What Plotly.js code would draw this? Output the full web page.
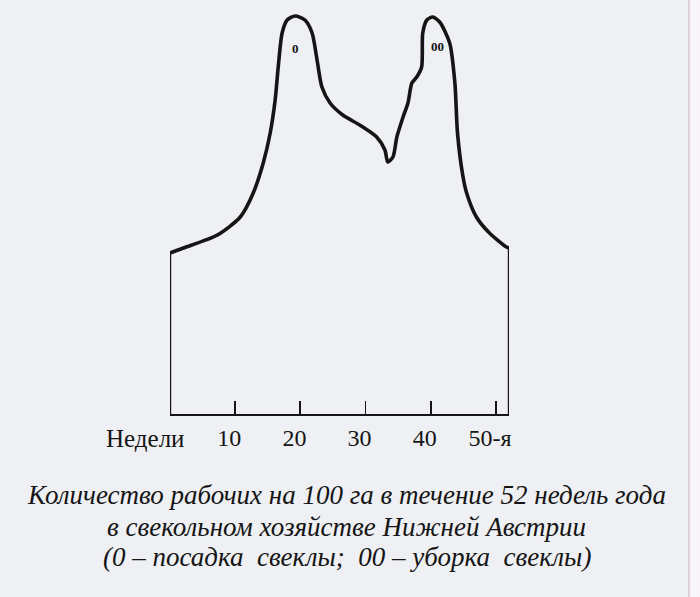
<!DOCTYPE html>
<html>
<head>
<meta charset="utf-8">
<script src="https://cdn.plot.ly/plotly-3.0.1.min.js"></script>
<style>
  html, body { margin: 0; padding: 0; background: #eef0f3; }
  #chart { width: 700px; height: 597px; }
</style>
</head>
<body>
<div id="chart"></div>
<script>
// Weeks of the year (x) and workers per 100 ha (relative units, y)
const weeks = [0, 2.06, 7.27, 10.78, 12.77, 14.3, 15.37, 16.13, 16.6, 17.2, 17.97, 19.2, 20.7, 21.8,
  22.56, 23.3, 24.55, 26.5, 29.1, 31.7, 32.97, 33.4, 34.2, 34.8, 35.7, 36.5, 37.1, 37.85, 38.6,
  38.77, 39.4, 40.3, 41.37, 42.9, 43.7, 44.1, 44.9, 45.5, 47.0, 49.0, 51.6, 52];
const workers = [16.1, 16.6, 17.9, 19.7, 22.1, 25.1, 28.1, 31.4, 34.7, 38.1, 39.4, 39.8, 39.4, 38.1,
  35.4, 32.7, 31.1, 29.9, 28.9, 27.7, 26.4, 25.2, 25.7, 27.7, 29.6, 31.1, 33.1, 33.7, 34.7,
  38.1, 39.4, 39.7, 39.2, 37.1, 33.1, 28.1, 23.9, 22.1, 19.7, 18.1, 16.7, 16.6];

// Start/end of the year edges
const edgeLeftX = [0, 0];
const edgeLeftY = [0, 16.1];
const edgeRightX = [52, 52];
const edgeRightY = [0, 16.6];

const tickVals = [10, 20, 30, 40, 50];
const tickText = ["10", "20", "30", "40", "50-я"];
const axisWord = "Недели";

const markerLabels = ["0", "00"];
const markerX = [19.2, 41.07];
const markerY = [36.6, 36.8];

const captionLines = [
  "Количество рабочих на 100 га в течение 52 недель года",
  "в свекольном хозяйстве Нижней Австрии",
  "(0 – посадка  свеклы;  00 – уборка  свеклы)"
];

const ink = "#151515";
const serif = "Liberation Serif";

const traces = [
  { x: weeks, y: workers, mode: "lines", line: { color: ink, width: 3.6, shape: "spline", smoothing: 0.7 }, hoverinfo: "skip" },
  { x: edgeLeftX, y: edgeLeftY, mode: "lines", line: { color: ink, width: 2.4 }, hoverinfo: "skip" },
  { x: edgeRightX, y: edgeRightY, mode: "lines", line: { color: ink, width: 2.4 }, hoverinfo: "skip" }
];

const annotations = [];
markerLabels.forEach((t, i) => annotations.push({
  x: markerX[i], y: markerY[i], xref: "x", yref: "y", text: "<b>" + t + "</b>", showarrow: false,
  font: { family: serif, size: 13, color: ink }
}));
annotations.push({
  x: (145 - 169.5) / 340, y: (414 - 438) / 400, xref: "paper", yref: "paper", text: axisWord, showarrow: false,
  xanchor: "center", yanchor: "middle", font: { family: serif, size: 25, color: ink }
});
const capY = [495, 527, 557];
captionLines.forEach((t, i) => annotations.push({
  x: (347 - 169.5) / 340, y: (414 - capY[i]) / 400, xref: "paper", yref: "paper",
  text: t, showarrow: false, xanchor: "center", yanchor: "middle",
  font: { family: serif, size: 27, color: ink, style: "italic" }
}));

const layout = {
  width: 700, height: 597,
  margin: { l: 169.5, r: 190.5, t: 14, b: 183 },
  paper_bgcolor: "#eef0f3", plot_bgcolor: "rgba(0,0,0,0)",
  showlegend: false,
  xaxis: {
    range: [0, 52], showgrid: false, zeroline: false,
    showline: true, linecolor: ink, linewidth: 2.4,
    tickmode: "array", tickvals: tickVals, ticktext: tickText,
    ticks: "inside", ticklen: 13, tickwidth: 1.8, tickcolor: ink,
    tickfont: { family: serif, size: 24, color: ink },
    ticklabelshift: -6, ticklabelstandoff: 1
  },
  yaxis: { range: [0, 40], showgrid: false, zeroline: false, showline: false, showticklabels: false, ticks: "" },
  annotations: annotations,
  shapes: [
    { type: "rect", xref: "paper", yref: "paper", x0: (690 - 169.5) / 340, x1: 1.6, y0: -2, y1: 1.1,
      fillcolor: "#f7f5f7", line: { width: 0 }, layer: "below" },
    { type: "line", xref: "paper", yref: "paper", x0: (690 - 169.5) / 340, x1: (690 - 169.5) / 340, y0: -2, y1: 1.1,
      line: { color: "#d8c6d2", width: 1.5 }, layer: "below" }
  ]
};

Plotly.newPlot("chart", traces, layout, { displayModeBar: false, staticPlot: true });
</script>
</body>
</html>
